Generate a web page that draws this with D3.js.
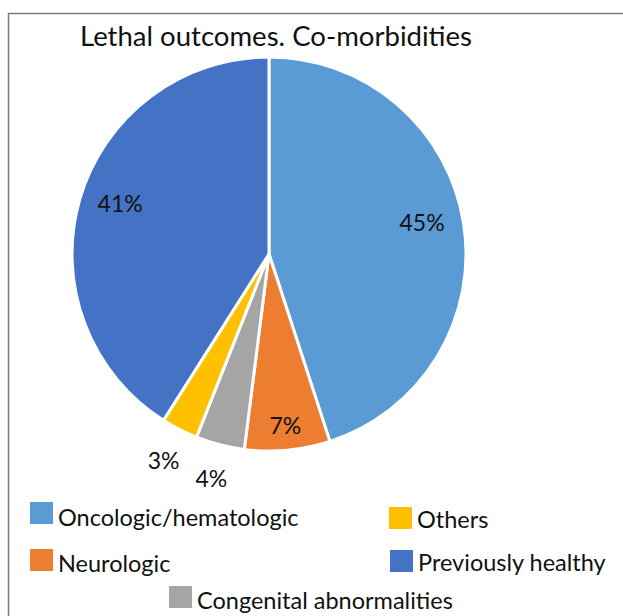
<!DOCTYPE html>
<html><head><meta charset="utf-8">
<script src="https://cdn.jsdelivr.net/npm/d3@7"></script>
<style>body{margin:0;background:#fff}svg{display:block}</style>
</head><body>
<svg id="c" width="623" height="616"></svg>
<script>
const categories = ["Oncologic/hematologic","Neurologic","Congenital abnormalities","Others","Previously healthy"];
const values = [45, 7, 4, 3, 41];
const labels = ["45%","7%","4%","3%","41%"];
const colors = ["#5B9BD5","#ED7D31","#A5A5A5","#FFC000","#4472C4"];
const title = "Lethal outcomes. Co-morbidities";

const svg = d3.select("#c");
const font = "Lato, 'Open Sans', sans-serif";
// frame
svg.append("path").attr("d","M8.5,616 V13.5 H623").attr("fill","none").attr("stroke","#7a7a7a").attr("stroke-width",1.5);
svg.append("text").attr("x",80).attr("y",46)
  .attr("font-family",font).attr("font-size",27).attr("fill","#111")
  .attr("textLength",392).attr("lengthAdjust","spacingAndGlyphs").text(title);

const cx=269, cy=254, R=197;
const data = categories.map((c,i)=>({c,v:values[i],l:labels[i],col:colors[i]}));
const pie = d3.pie().sort(null).value(d=>d.v);
const arcs = pie(data);
const arc = d3.arc().innerRadius(0).outerRadius(R);
const g = svg.append("g").attr("transform",`translate(${cx},${cy})`);
g.selectAll("path").data(arcs).join("path").attr("d",arc)
  .attr("fill",d=>d.data.col).attr("stroke","#fff").attr("stroke-width",3).attr("stroke-linejoin","round");
function lr(d){ return d.data.v>=10?155:(d.data.v>=5?173:232); }
function shift(d){ return d.data.v>=10?-7:0; }
g.selectAll("text").data(arcs).join("text")
  .attr("transform",d=>{const a=(d.startAngle+d.endAngle)/2, r=lr(d);return `translate(${Math.sin(a)*r},${-Math.cos(a)*r+shift(d)})`;})
  .attr("text-anchor","middle").attr("dy","0.35em")
  .attr("font-family",font).attr("font-size",23).attr("fill","#111").text(d=>d.data.l);

// legend
const legPos = {"Oncologic/hematologic":[30,502,526],"Neurologic":[30,549,572],"Congenital abnormalities":[169,586,609],"Others":[389,507,528],"Previously healthy":[390,550,571]};
const lg = svg.append("g");
data.forEach(d=>{
  const [x,y,by]=legPos[d.c];
  lg.append("rect").attr("x",x).attr("y",y).attr("width",23).attr("height",22).attr("fill",d.col);
  lg.append("text").attr("x",x+28).attr("y",by).attr("font-family",font).attr("font-size",23.5).attr("fill","#111").text(d.c);
});
</script>
</body></html>
